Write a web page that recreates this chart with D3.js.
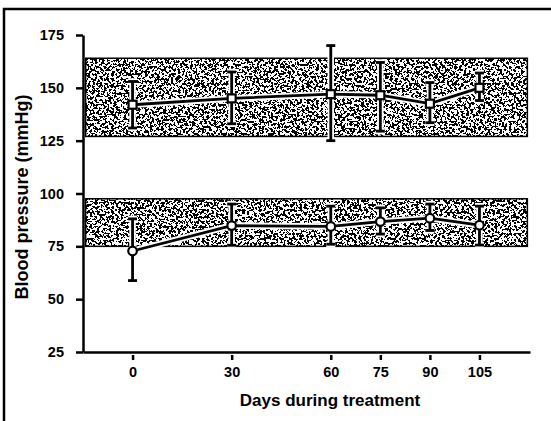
<!DOCTYPE html>
<html>
<head>
<meta charset="utf-8">
<script src="https://cdn.jsdelivr.net/npm/d3@7"></script>
<style>
  body { margin: 0; background: #fff; }
  svg { display: block; font-family: "Liberation Sans", Arial, sans-serif; }
  .axis text { font-size: 14.5px; font-weight: bold; fill: #000; }
  .axis path, .axis line { stroke: #000; stroke-width: 2.5; }
</style>
</head>
<body>
<div id="chart"></div>
<script>
// days of measurement
var days = [0, 30, 60, 75, 90, 105];

// systolic (squares) mean, lower and upper error
var sysMean = [142, 145, 147, 146.5, 142.5, 150];
var sysLow  = [131, 133, 125, 129.5, 133.5, 144];
var sysHigh = [153, 157.5, 170, 162, 152.5, 157];

// diastolic (circles) mean, lower and upper error
var diaMean = [72.8, 84.8, 84.4, 86.7, 88.3, 85];
var diaLow  = [58.8, 75.5, 76, 80.8, 82.5, 75.6];
var diaHigh = [88, 95, 94, 93.2, 95, 94];

// normal ranges shown as shaded bands
var bandLow  = [127, 75];
var bandHigh = [164, 97.5];

var yTicks = [25, 50, 75, 100, 125, 150, 175];

var width = 551, height = 421;
var svg = d3.select("#chart").append("svg")
  .attr("width", width).attr("height", height);

// stipple texture for the bands
var defs = svg.append("defs");
var f = defs.append("filter").attr("id", "stipple")
  .attr("x", 0).attr("y", 0).attr("width", 1).attr("height", 1);
f.append("feTurbulence").attr("type", "fractalNoise")
  .attr("baseFrequency", 0.42).attr("numOctaves", 3).attr("seed", 7).attr("result", "n");
f.append("feColorMatrix").attr("in", "n").attr("type", "matrix")
  .attr("values", "0 0 0 0 0  0 0 0 0 0  0 0 0 0 0  1.4 0 0 0 -0.22").attr("result", "a");
var ct = f.append("feComponentTransfer").attr("in", "a").attr("result", "t");
ct.append("feFuncA").attr("type", "discrete").attr("tableValues", "0 1");
f.append("feComposite").attr("in", "t").attr("in2", "SourceGraphic").attr("operator", "in");

// frame (left + top, cut off by the picture)
svg.append("path")
  .attr("d", "M4,430V9H560")
  .attr("fill", "none").attr("stroke", "#000").attr("stroke-width", 2.5);

var x = d3.scaleLinear().domain([-15, 120.3]).range([83, 530]);
var y = d3.scaleLinear().domain([25, 175]).range([352, 35]);

// bands
var bands = svg.append("g");
bandLow.forEach(function(lo, i) {
  var hi = bandHigh[i];
  bands.append("rect")
    .attr("x", x(-14.2)).attr("y", y(hi))
    .attr("width", x(119.5) - x(-14.2)).attr("height", y(lo) - y(hi))
    .attr("fill", "#000").attr("filter", "url(#stipple)");
  bands.append("rect")
    .attr("x", x(-14.2)).attr("y", y(hi))
    .attr("width", x(119.5) - x(-14.2)).attr("height", y(lo) - y(hi))
    .attr("fill", "none").attr("stroke", "#000").attr("stroke-width", 1.5);
});

// axes
var yAxis = svg.append("g").attr("class", "axis")
  .attr("transform", "translate(" + x(-15) + ",0)")
  .call(d3.axisLeft(y).tickValues(yTicks).tickSize(7).tickSizeOuter(0).tickPadding(12));

var xAxis = svg.append("g").attr("class", "axis")
  .attr("transform", "translate(0," + y(25) + ")")
  .call(d3.axisBottom(x).tickValues(days).tickSizeOuter(0).tickFormat(d3.format("d")));
xAxis.selectAll(".tick line").attr("y1", 3).attr("y2", 8);
xAxis.selectAll(".tick text").attr("y", 15);

// axis titles
svg.append("text")
  .attr("x", 330).attr("y", 406)
  .attr("text-anchor", "middle")
  .attr("font-size", "17px").attr("font-weight", "bold")
  .text("Days during treatment");

svg.append("text")
  .attr("transform", "translate(28,197) rotate(-90)")
  .attr("text-anchor", "middle")
  .attr("font-size", "18px").attr("font-weight", "bold")
  .text("Blood pressure (mmHg)");

function drawSeries(mean, low, high, shape) {
  var g = svg.append("g");
  var line = d3.line().x(function(d, i) { return x(days[i]); }).y(function(d) { return y(d); });
  // white halo, then black strokes
  [["#fff", 6.5], ["#000", 2.8]].forEach(function(st) {
    g.append("path").datum(mean).attr("d", line)
      .attr("fill", "none").attr("stroke", st[0]).attr("stroke-width", st[1]);
    days.forEach(function(d, i) {
      var cx = x(d);
      g.append("line").attr("x1", cx).attr("x2", cx)
        .attr("y1", y(low[i])).attr("y2", y(high[i]))
        .attr("stroke", st[0]).attr("stroke-width", st[1]);
      [low[i], high[i]].forEach(function(v) {
        g.append("line").attr("x1", cx - 4.5).attr("x2", cx + 4.5)
          .attr("y1", y(v)).attr("y2", y(v))
          .attr("stroke", st[0]).attr("stroke-width", st[1]);
      });
    });
  });
  days.forEach(function(d, i) {
    var cx = x(d), cy = y(mean[i]);
    if (shape === "square") {
      g.append("rect").attr("x", cx - 4).attr("y", cy - 4)
        .attr("width", 8).attr("height", 8)
        .attr("fill", "#fff").attr("stroke", "#000").attr("stroke-width", 2.2);
    } else {
      g.append("circle").attr("cx", cx).attr("cy", cy).attr("r", 4.3)
        .attr("fill", "#fff").attr("stroke", "#000").attr("stroke-width", 2.2);
    }
  });
}

drawSeries(sysMean, sysLow, sysHigh, "square");
drawSeries(diaMean, diaLow, diaHigh, "circle");
</script>
</body>
</html>
